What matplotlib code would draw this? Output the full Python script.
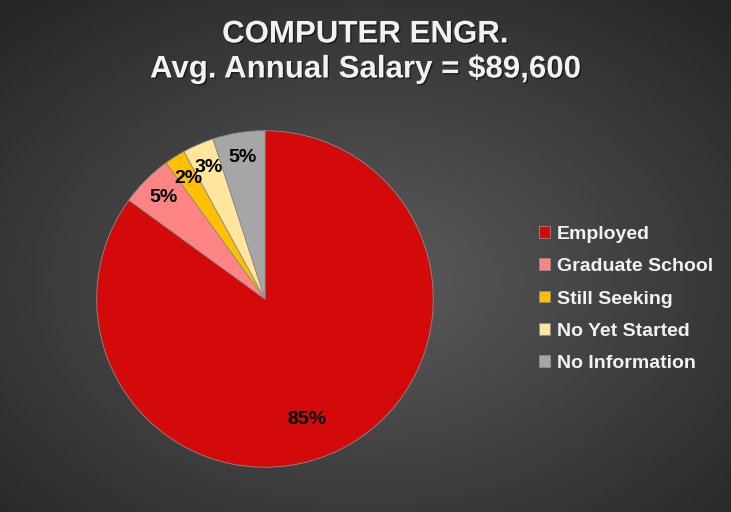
import numpy as np
import matplotlib.pyplot as plt
import matplotlib.patheffects as pe
from matplotlib.colors import LinearSegmentedColormap

plt.rcParams['font.family'] = ['Liberation Sans', 'DejaVu Sans']

labels = ['Employed', 'Graduate School', 'Still Seeking', 'No Yet Started', 'No Information']
shares = [85, 5, 2, 3, 5]
colors = ['#d40a0a', '#ff8585', '#ffc000', '#ffe69c', '#a6a6a6']
title = 'COMPUTER ENGR.\nAvg. Annual Salary = $89,600'

fig = plt.figure(figsize=(7.31, 5.12), dpi=100)

# radial grey background
bg = fig.add_axes([0, 0, 1, 1], zorder=-10)
yy, xx = np.mgrid[0:512, 0:731]
r = np.sqrt(((xx - 365) / 731.0) ** 2 + ((yy - 280) / 512.0) ** 2)
r = np.clip(r / 0.72, 0, 1)
cmap = LinearSegmentedColormap.from_list('bg', ['#5c5c5c', '#262626'])
bg.imshow(r, cmap=cmap, aspect='auto', vmin=0, vmax=1)
bg.axis('off')

ax = fig.add_axes([0.130, 0.084, 0.465, 0.664])
wedges, texts, autotexts = ax.pie(
    shares, colors=colors, startangle=90, counterclock=False, radius=1,
    autopct='%1.0f%%', pctdistance=0.85,
    wedgeprops=dict(edgecolor='#8c8c8c', linewidth=0.6),
    textprops=dict(fontsize=14, fontweight='bold', color='black'))

# big slice label sits a bit further round and closer in
w = wedges[0]
ang = np.deg2rad((w.theta1 + w.theta2) / 2 - 8)
autotexts[0].set_position((0.76 * np.cos(ang), 0.76 * np.sin(ang)))

ax.set_xlim(-1.01, 1.01)
ax.set_ylim(-1.01, 1.01)
ax.set_aspect('equal')
ax.axis('off')

fig.text(0.5, 0.962, title, ha='center', va='top', color='#f2f2f2',
         fontsize=22.5, fontweight='bold', linespacing=1.22,
         path_effects=[pe.withSimplePatchShadow(offset=(1, -1), shadow_rgbFace='black', alpha=0.5)])

leg = fig.legend(wedges, labels, loc='center left', bbox_to_anchor=(0.714, 0.416),
                 frameon=False, fontsize=14, handlelength=0.55, handleheight=0.55,
                 handletextpad=0.35, labelspacing=0.79)
for t in leg.get_texts():
    t.set_color('#f2f2f2')
    t.set_fontweight('bold')

fig.savefig('out.png', dpi=100)
